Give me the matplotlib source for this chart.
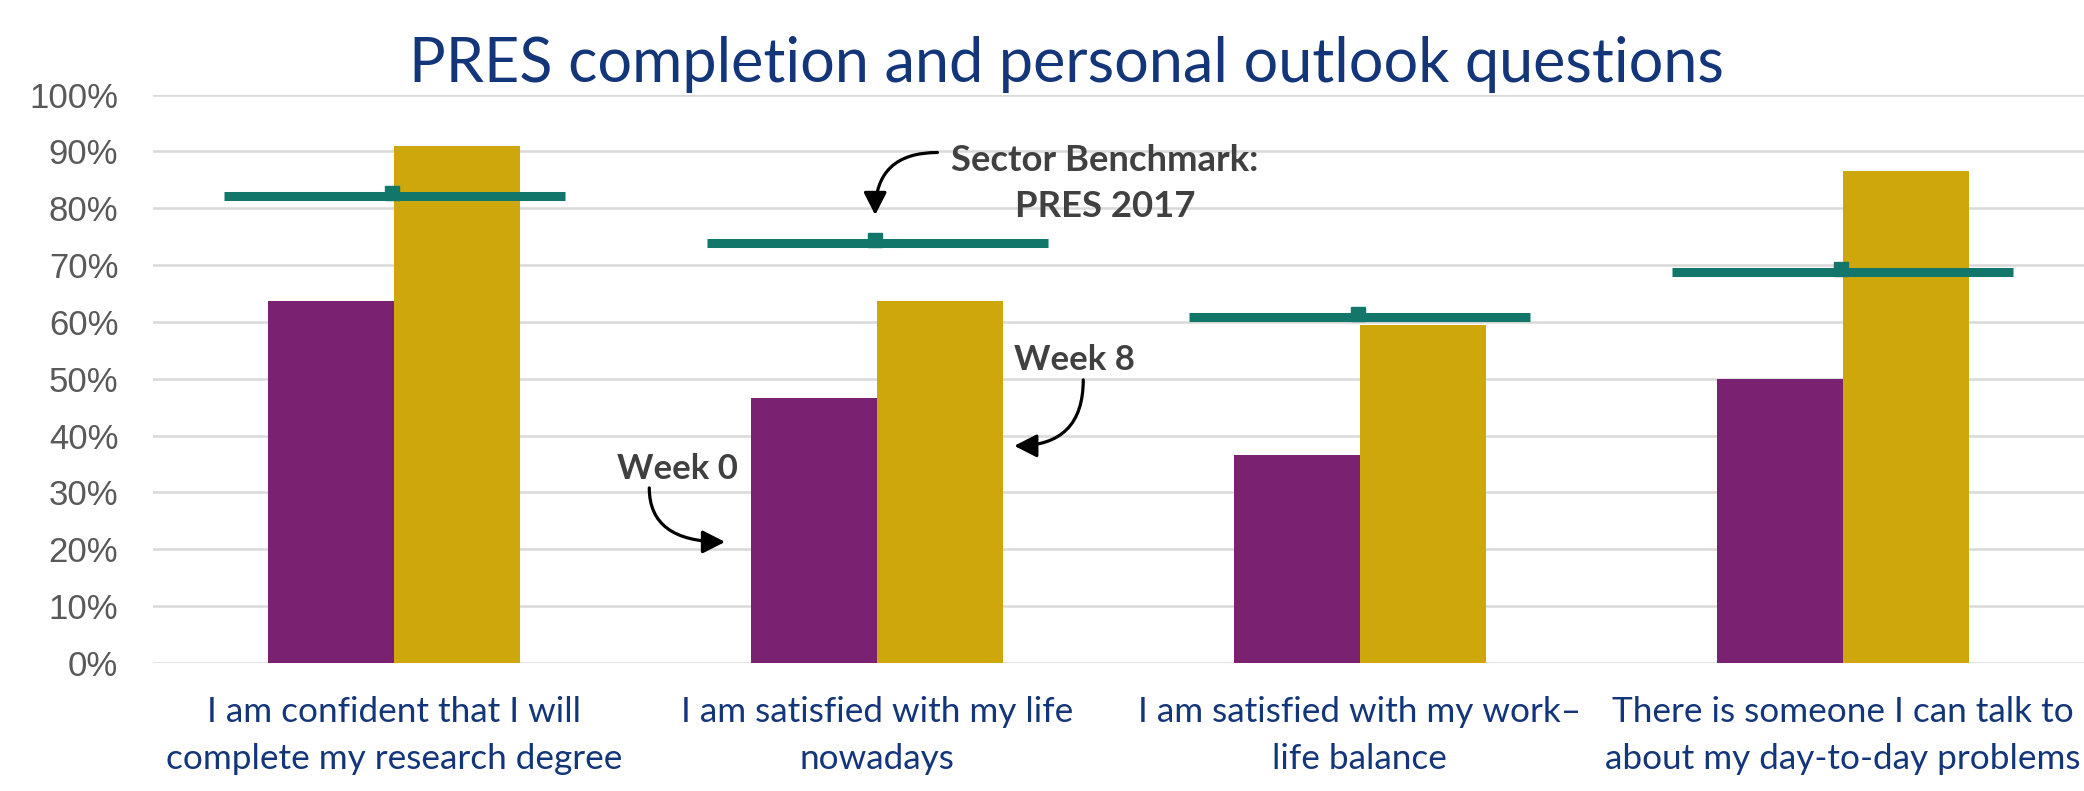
import matplotlib
matplotlib.use("Agg")
import matplotlib.pyplot as plt
from matplotlib.ticker import FuncFormatter
import matplotlib.transforms as mtransforms
import numpy as np

# ---- data ----
categories = [
    "I am confident that I will\ncomplete my research degree",
    "I am satisfied with my life\nnowadays",
    "I am satisfied with my work\u2013\nlife balance",
    "There is someone I can talk to\nabout my day-to-day problems",
]
week0 = [63.7, 46.6, 36.6, 50.0]
week8 = [91.0, 63.7, 59.4, 86.6]
benchmark = [82.1, 73.9, 60.9, 68.7]
yticks = [0, 10, 20, 30, 40, 50, 60, 70, 80, 90, 100]
title = "PRES completion and personal outlook questions"

PURPLE = "#7A2271"
GOLD = "#CEA70C"
TEAL = "#12766A"
NAVY = "#13357A"
GRID = "#D9D9D9"
ANNO = "#404040"

W, H, DPI = 2084, 791, 100
fig = plt.figure(figsize=(W / DPI, H / DPI), dpi=DPI)
ax = fig.add_axes([153 / W, 1 - 663 / H, 1 - 153 / W, (663 - 94.5) / H])

x = np.arange(len(categories))
bw = 0.261
ax.bar(x - bw / 2, week0, width=bw, color=PURPLE, zorder=2)
ax.bar(x + bw / 2, week8, width=bw, color=GOLD, zorder=2)

# benchmark lines with small marker bump
half = 0.353
ax.hlines(benchmark, x - half, x + half, colors=TEAL, linewidth=6.5, zorder=4,
          capstyle="butt")
bump_tr = mtransforms.offset_copy(ax.transData, fig=fig, x=-2, y=3, units="dots")
ax.plot(x, benchmark, linestyle="none", marker="s", markersize=9.4,
        color=TEAL, transform=bump_tr, zorder=3)

ax.set_xlim(-0.5, 3.5)
ax.set_ylim(0, 100)
ax.set_yticks(yticks)
ax.yaxis.set_major_formatter(FuncFormatter(lambda v, p: f"{v:.0f}%"))
ax.grid(axis="y", color=GRID, linewidth=1.8, zorder=0)
ax.set_axisbelow(True)
for s in ax.spines.values():
    s.set_visible(False)
ax.tick_params(axis="y", length=0, pad=25, labelsize=25, labelcolor="#595959")
for lab in ax.get_yticklabels():
    lab.set_fontfamily("Liberation Sans")
ax.set_xticks(x)
ax.set_xticklabels(categories, fontsize=25.3, color=NAVY, family="Lato",
                   linespacing=1.55)
ax.tick_params(axis="x", length=0, pad=24)

fig.text(1066 / W, 1 - 82.3 / H, title, ha="center", va="baseline",
         fontsize=44, color=NAVY, family="Lato")

# annotations
afont = dict(fontsize=25, color=ANNO, family="Lato", fontweight="bold",
             ha="center", va="baseline")
ax.text(0.586, 32.4, "Week 0", **afont)
ax.text(1.408, 51.5, "Week 8", **afont)
sfont = dict(afont, fontsize=26.3)
ax.text(1.472, 86.5, "Sector Benchmark:", **sfont)
ax.text(1.472, 78.4, "PRES 2017", **sfont)

aprops = dict(arrowstyle="-|>,head_length=0.55,head_width=0.28", color="black",
              lw=2.3, mutation_scale=25, shrinkA=0, shrinkB=0)
ax.annotate("", xy=(0.685, 21.3), xytext=(0.528, 30.8),
            arrowprops=dict(connectionstyle="angle3,angleA=90,angleB=0", **aprops),
            zorder=6)
ax.annotate("", xy=(1.284, 38.2), xytext=(1.427, 49.8),
            arrowprops=dict(connectionstyle="angle3,angleA=90,angleB=0", **aprops),
            zorder=6)
ax.annotate("", xy=(0.996, 78.8), xytext=(1.125, 89.8),
            arrowprops=dict(connectionstyle="angle3,angleA=0,angleB=90", **aprops),
            zorder=6)

fig.savefig("out.png", dpi=DPI)
